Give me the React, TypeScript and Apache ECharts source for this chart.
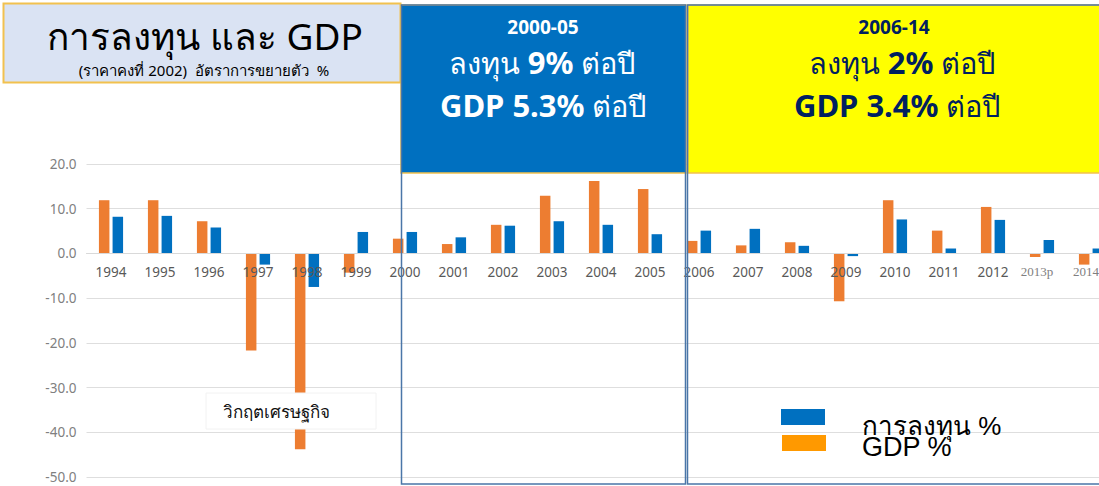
import React, { useEffect, useRef } from "react";
import * as echarts from "echarts";

const years = ["1994", "1995", "1996", "1997", "1998", "1999", "2000", "2001", "2002", "2003", "2004", "2005", "2006", "2007", "2008", "2009", "2010", "2011", "2012", "2013p", "2014"];
// orange bars (left of each pair)
const investment = [11.9, 11.9, 7.2, -21.7, -43.8, -4.3, 3.3, 2.1, 6.4, 12.9, 16.2, 14.4, 2.8, 1.8, 2.5, -10.7, 11.9, 5.1, 10.4, -0.8, -2.5];
// blue bars (right of each pair)
const gdp = [8.2, 8.4, 5.8, -2.5, -7.5, 4.8, 4.8, 3.6, 6.2, 7.2, 6.4, 4.3, 5.1, 5.5, 1.7, -0.6, 7.6, 1.1, 7.5, 3.0, 1.1];
const serifLabelYears = ["2013p", "2014"];
const yMin = -50;
const yMax = 20;
const yStep = 10;

const FONT = "'Noto Sans', 'Open Sans', sans-serif";

const GRID_TOP = 164;
const GRID_BOTTOM = 9;
const CHART_H = 486;

export default function App() {
  const ref = useRef<HTMLDivElement>(null);
  useEffect(() => {
    if (!ref.current) return;
    const chart = echarts.init(ref.current, undefined, { renderer: "svg" });
    const white = "#ffffff";
    const navy = "#002060";
    const plotH = CHART_H - GRID_TOP - GRID_BOTTOM;
    const zeroOffset = -(plotH * (0 - yMin)) / (yMax - yMin);
    const richFor = (c: string) => ({
      a: { fontSize: 29, fontFamily: FONT, fill: c, color: c },
      b: { fontSize: 31, fontWeight: "bold", fontFamily: FONT, fill: c, color: c },
    });
    const catData = years.map((y) =>
      serifLabelYears.includes(y)
        ? { value: y, textStyle: { fontFamily: "'Liberation Serif', serif", fontSize: 13, color: "#7f7f7f", padding: [0, 10, 0, 0] } }
        : y
    );
    chart.setOption({
      animation: false,
      backgroundColor: "#ffffff",
      grid: { left: 86.5, right: -16.5, top: GRID_TOP, bottom: GRID_BOTTOM, containLabel: false, outerBoundsMode: "none" },
      xAxis: {
        type: "category",
        data: catData,
        z: 5,
        position: "bottom",
        offset: zeroOffset,
        axisLine: { show: true, onZero: false, lineStyle: { color: "#d9d9d9", width: 1 } },
        axisTick: { show: false },
        axisLabel: { color: "#595959", fontSize: 13.5, fontFamily: FONT, margin: 12, interval: 0 },
        splitLine: { show: false },
      },
      yAxis: {
        type: "value",
        min: yMin,
        max: yMax,
        interval: yStep,
        axisLine: { show: false },
        axisTick: { show: false },
        axisLabel: { color: "#808080", fontSize: 13.5, fontFamily: FONT, margin: 10, formatter: (v: number) => v.toFixed(1) },
        splitLine: { lineStyle: { color: "#dedede", width: 1 } },
      },
      series: [
        { name: "การลงทุน", type: "bar", data: investment, barWidth: 10.5, barGap: "30%", itemStyle: { color: "#ed7d31" } },
        { name: "GDP", type: "bar", data: gdp, barWidth: 10.5, barGap: "30%", itemStyle: { color: "#0070c0" } },
      ],
      graphic: [
        { type: "rect", z: 100, shape: { x: 3.5, y: 3.5, width: 397, height: 79 }, style: { fill: "#dae3f3", stroke: "#f2c14e", lineWidth: 2 } },
        { type: "text", z: 101, x: 205, y: 35, style: { text: "การลงทุน และ GDP", fontSize: 37, fontFamily: FONT, fill: "#000", align: "center", verticalAlign: "middle" } },
        { type: "text", z: 101, x: 204, y: 70, style: { text: "(ราคาคงที่ 2002)  อัตราการขยายตัว  %", fontSize: 15, fontFamily: FONT, fill: "#000", align: "center", verticalAlign: "middle" } },
        { type: "rect", z: 100, shape: { x: 401, y: 5, width: 285, height: 168 }, style: { fill: "#0070c0", stroke: "#f2c14e", lineWidth: 1.5 } },
        { type: "rect", z: 100, shape: { x: 688, y: 5, width: 420, height: 168 }, style: { fill: "#ffff00", stroke: "#f2c14e", lineWidth: 1.5 } },
        { type: "rect", z: 102, shape: { x: 401.5, y: 5, width: 284, height: 479 }, style: { fill: "none", stroke: "#4a76a8", lineWidth: 1.5 } },
        { type: "rect", z: 102, shape: { x: 687.5, y: 5, width: 420, height: 479 }, style: { fill: "none", stroke: "#4a76a8", lineWidth: 1.5 } },
        { type: "text", z: 103, x: 543, y: 27, style: { text: "2000-05", fontSize: 19, fontWeight: "bold", fontFamily: FONT, fill: white, align: "center", verticalAlign: "middle" } },
        { type: "text", z: 103, x: 542, y: 62, style: { text: "{a|ลงทุน }{b|9%}{a| ต่อปี}", align: "center", verticalAlign: "middle", rich: richFor(white) } },
        { type: "text", z: 103, x: 543, y: 105, style: { text: "{b|GDP 5.3%}{a| ต่อปี}", align: "center", verticalAlign: "middle", rich: richFor(white) } },
        { type: "text", z: 103, x: 894, y: 27, style: { text: "2006-14", fontSize: 19, fontWeight: "bold", fontFamily: FONT, fill: navy, align: "center", verticalAlign: "middle" } },
        { type: "text", z: 103, x: 902, y: 62, style: { text: "{a|ลงทุน }{b|2%}{a| ต่อปี}", align: "center", verticalAlign: "middle", rich: richFor(navy) } },
        { type: "text", z: 103, x: 897, y: 105, style: { text: "{b|GDP 3.4%}{a| ต่อปี}", align: "center", verticalAlign: "middle", rich: richFor(navy) } },
        { type: "rect", z: 100, shape: { x: 206, y: 393, width: 170, height: 36 }, style: { fill: "#ffffff", stroke: "#f2f2f2", lineWidth: 1 } },
        { type: "text", z: 101, x: 276, y: 411, style: { text: "วิกฤตเศรษฐกิจ", fontSize: 17, fontFamily: FONT, fill: "#111", align: "center", verticalAlign: "middle" } },
        { type: "rect", z: 100, shape: { x: 781, y: 409, width: 44, height: 16 }, style: { fill: "#0070c0" } },
        { type: "rect", z: 100, shape: { x: 782, y: 435, width: 44, height: 16 }, style: { fill: "#ff9900" } },
        { type: "text", z: 101, x: 862, y: 425.5, style: { text: "การลงทุน %", fontSize: 26, fontFamily: "'Liberation Sans', Arial, sans-serif", fill: "#000", align: "left", verticalAlign: "middle" } },
        { type: "text", z: 101, x: 862, y: 446.5, style: { text: "GDP %", fontSize: 27, fontFamily: "'Liberation Sans', Arial, sans-serif", fill: "#000", align: "left", verticalAlign: "middle" } },
      ],
    });
    return () => chart.dispose();
  }, []);
  return <div ref={ref} style={{ position: "fixed", left: 0, top: 0, width: 1099, height: 486 }} />;
}
